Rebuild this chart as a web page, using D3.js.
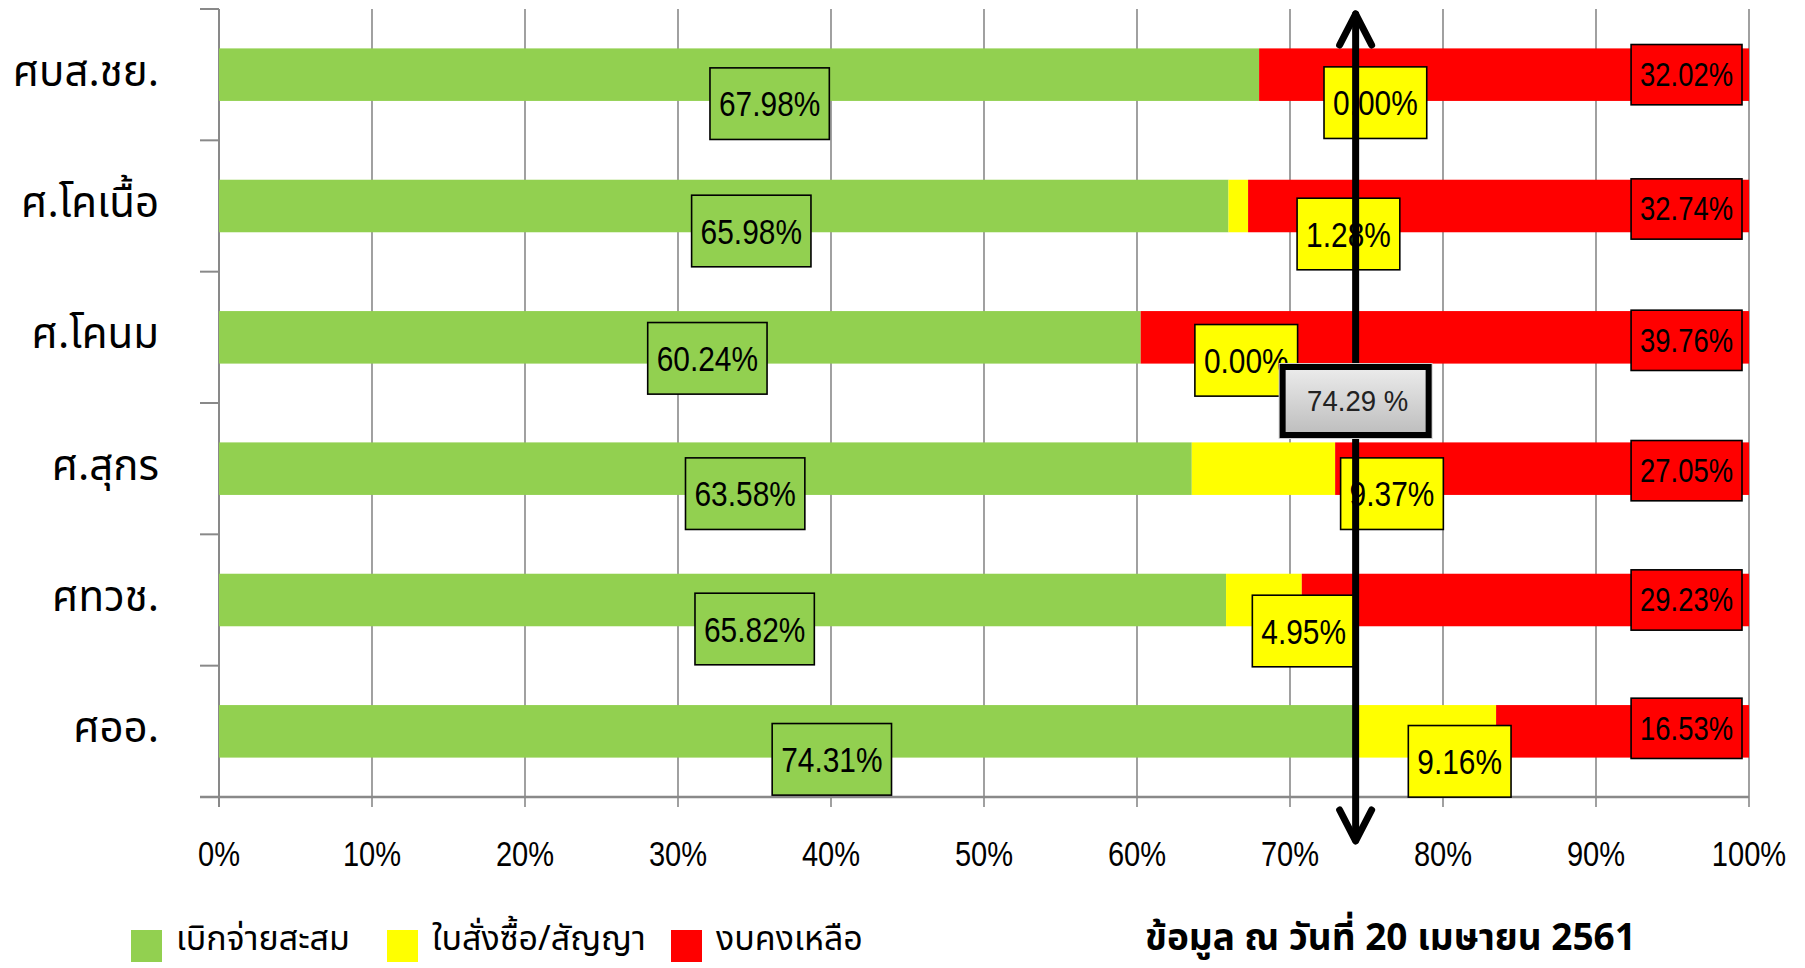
<!DOCTYPE html>
<html><head><meta charset="utf-8">
<script src="https://cdn.jsdelivr.net/npm/d3@7"></script>
<style>
body{margin:0;background:#fff;}
svg{display:block;}
</style></head>
<body>
<svg id="chart" width="1805" height="968"></svg>
<script>
// ---- data ----
const categories = ["ศบส.ชย.", "ศ.โคเนื้อ", "ศ.โคนม", "ศ.สุกร", "ศทวช.", "ศออ."];
const disbursed  = [67.98, 65.98, 60.24, 63.58, 65.82, 74.31];   // เบิกจ่ายสะสม
const contracted = [0.00, 1.28, 0.00, 9.37, 4.95, 9.16];         // ใบสั่งซื้อ/สัญญา
const remaining  = [32.02, 32.74, 39.76, 27.05, 29.23, 16.53];   // งบคงเหลือ
const seriesNames = ["เบิกจ่ายสะสม", "ใบสั่งซื้อ/สัญญา", "งบคงเหลือ"];
const xTicks = [0, 10, 20, 30, 40, 50, 60, 70, 80, 90, 100];
const targetValue = 74.29;
const dateNote = "ข้อมูล ณ วันที่ 20 เมษายน 2561";

// ---- label nudges (value units / px) ----
const greenNudgeX  = [2.0, 1.8, 1.8, 2.6, 2.1, 2.9];
const greenNudgeY  = [29, 25, 21, 25, 29, 28];
const yellowNudgeX = [7.6, 7.2, 6.9, 8.4, 2.6, 2.2];
const yellowNudgeY = [28, 28, 23, 25, 31, 30];
const redNudgeY    = [0, 3, 3, 2, 0, -3];

const colors = ["#92d050", "#ffff00", "#ff0000"];
const grid = "#898989";
const numFont = "'Liberation Sans',Arial,sans-serif";
const thaiFont = "'Noto Sans Thai','Noto Sans Thai Looped','Loma','Garuda','Noto Sans',sans-serif";
const SX = 0.83; // narrow-face compression

const svg = d3.select("#chart");
const x = d3.scaleLinear().domain([0, 100]).range([219, 1749]);
const y = d3.scaleBand().domain(categories).range([9, 797]).paddingInner(0.6).paddingOuter(0.3);
const step = y.step();

const rows = categories.map((c, i) => ({
  cat: c, i,
  segs: [
    {k: 0, x0: 0, x1: disbursed[i], v: disbursed[i]},
    {k: 1, x0: disbursed[i], x1: disbursed[i] + contracted[i], v: contracted[i]},
    {k: 2, x0: disbursed[i] + contracted[i], x1: disbursed[i] + contracted[i] + remaining[i], v: remaining[i]}
  ]
}));

// gridlines
svg.append("g").selectAll("line").data(xTicks).join("line")
  .attr("x1", d => x(d)).attr("x2", d => x(d))
  .attr("y1", 9).attr("y2", 807)
  .attr("stroke", grid).attr("stroke-width", 1.6);

// y-axis ticks (band boundaries)
const yb = d3.range(categories.length + 1).map(k => 9 + k * step);
svg.append("g").selectAll("line").data(yb).join("line")
  .attr("x1", 200).attr("x2", 219).attr("y1", d => d).attr("y2", d => d)
  .attr("stroke", grid).attr("stroke-width", 2);
svg.append("line").attr("x1", 219).attr("x2", 219).attr("y1", 9).attr("y2", 807).attr("stroke", grid).attr("stroke-width", 2);
svg.append("line").attr("x1", 200).attr("x2", 1749).attr("y1", 797).attr("y2", 797).attr("stroke", grid).attr("stroke-width", 2.4);

// bars
const rowG = svg.append("g").selectAll("g").data(rows).join("g");
rowG.selectAll("rect").data(d => d.segs.map(s => ({...s, cat: d.cat}))).join("rect")
  .attr("x", d => x(d.x0)).attr("width", d => x(d.x1) - x(d.x0))
  .attr("y", d => y(d.cat)).attr("height", y.bandwidth())
  .attr("fill", d => colors[d.k]);

// x tick labels
svg.append("g").selectAll("text").data(xTicks).join("text")
  .attr("transform", d => `translate(${x(d)},866) scale(${SX},1)`)
  .attr("text-anchor", "middle")
  .style("font-family", numFont).style("font-size", "35px").attr("fill", "#000")
  .text(d => d + "%");

// category labels
svg.append("g").selectAll("text").data(categories).join("text")
  .attr("x", 159).attr("y", d => y(d) + y.bandwidth() / 2 + 11)
  .attr("text-anchor", "end")
  .style("font-family", thaiFont).style("font-size", "42px").attr("fill", "#000")
  .text(d => d);

// data labels
function boxLabel(g, cx, cy, txt, fill, fs, padX, padY, anchorRight) {
  const t = g.append("text").attr("text-anchor", "middle")
    .attr("dominant-baseline", "central")
    .style("font-family", numFont).style("font-size", fs + "px").attr("fill", "#000").text(txt);
  const w = t.node().getBBox().width * SX;
  if (anchorRight !== undefined) cx = anchorRight - padX - w / 2;
  t.attr("transform", `translate(${cx},${cy}) scale(${SX},1)`);
  g.insert("rect", "text").attr("x", cx - w / 2 - padX).attr("y", cy - fs * 0.55 - padY)
    .attr("width", w + 2 * padX).attr("height", fs * 1.1 + 2 * padY)
    .attr("fill", fill).attr("stroke", "#000").attr("stroke-width", 1.6);
}
const labG = svg.append("g");
rows.forEach((r, i) => {
  const cy = y(r.cat) + y.bandwidth() / 2;
  boxLabel(labG.append("g"), x((r.segs[0].x0 + r.segs[0].x1) / 2 + greenNudgeX[i]), cy + greenNudgeY[i], disbursed[i].toFixed(2) + "%", colors[0], 36, 9, 16);
  boxLabel(labG.append("g"), x((r.segs[1].x0 + r.segs[1].x1) / 2 + yellowNudgeX[i]), cy + yellowNudgeY[i], contracted[i].toFixed(2) + "%", colors[1], 36, 9, 16);
});
rows.forEach((r, i) => {
  const cy = y(r.cat) + y.bandwidth() / 2;
  // inside-end label for the remaining budget
  boxLabel(labG.append("g"), 0, cy + redNudgeY[i], remaining[i].toFixed(2) + "%", colors[2], 33, 9, 12, x(r.segs[2].x1) - 7);
});

// target arrow
const ax = x(targetValue);
const arrowG = svg.append("g").attr("stroke", "#000").attr("stroke-width", 7).attr("stroke-linecap", "round").attr("fill", "none");
arrowG.append("line").attr("x1", ax).attr("x2", ax).attr("y1", 14).attr("y2", 840);
arrowG.append("polyline").attr("points", `${ax - 16},${45} ${ax},${14} ${ax + 16},${45}`).attr("stroke-linejoin", "round");
arrowG.append("polyline").attr("points", `${ax - 16},${810} ${ax},${841} ${ax + 16},${810}`).attr("stroke-linejoin", "round");

// target box
const defs = svg.append("defs");
const grad = defs.append("linearGradient").attr("id", "gbox").attr("x1", 0).attr("x2", 0).attr("y1", 0).attr("y2", 1);
grad.append("stop").attr("offset", "0%").attr("stop-color", "#ececec");
grad.append("stop").attr("offset", "100%").attr("stop-color", "#bdbdbd");
const bw = 146, bh = 68, by = 367;
svg.append("rect").attr("x", ax - bw / 2 - 3).attr("y", by - 3).attr("width", bw + 6).attr("height", bh + 6)
  .attr("fill", "none").attr("stroke", "#d0d0d0").attr("stroke-width", 2);
svg.append("rect").attr("x", ax - bw / 2).attr("y", by).attr("width", bw).attr("height", bh)
  .attr("fill", "url(#gbox)").attr("stroke", "#000").attr("stroke-width", 6);
svg.append("text").attr("transform", `translate(${ax + 2},${by + bh / 2}) scale(0.95,1)`)
  .attr("text-anchor", "middle").attr("dominant-baseline", "central")
  .style("font-family", numFont).style("font-size", "29px").attr("fill", "#222").text(targetValue.toFixed(2) + " %");

// legend
const legX = [131, 387, 671];
const lg = svg.append("g").selectAll("g").data(seriesNames).join("g");
lg.append("rect").attr("x", (d, i) => legX[i]).attr("y", 930).attr("width", 31).attr("height", 32).attr("fill", (d, i) => colors[i]);
lg.append("text").attr("x", (d, i) => legX[i] + 45).attr("y", 950)
  .style("font-family", thaiFont).style("font-size", "34px").attr("fill", "#000").text(d => d);

// date note
svg.append("text").attr("x", 1145).attr("y", 950)
  .style("font-family", thaiFont).style("font-size", "37px").style("font-weight", "bold").attr("fill", "#000").text(dateNote);
</script>
</body></html>
